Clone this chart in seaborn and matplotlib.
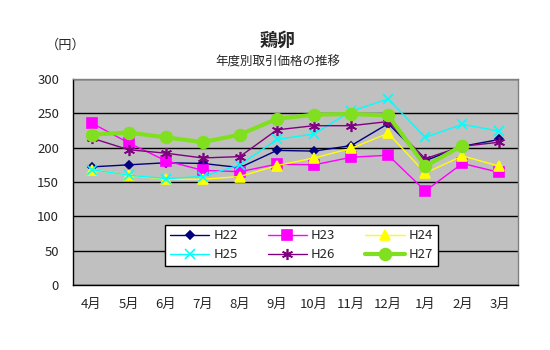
import numpy as np
import pandas as pd
import seaborn as sns
import matplotlib
matplotlib.use("Agg")
import matplotlib.pyplot as plt

months = ["4月", "5月", "6月", "7月", "8月", "9月", "10月", "11月", "12月", "1月", "2月", "3月"]
h22 = [172, 175, 178, 177, 171, 196, 195, 203, 235, 181, 202, 212]
h23 = [236, 207, 181, 167, 165, 176, 175, 186, 189, 137, 177, 164]
h24 = [168, 160, 154, 154, 158, 174, 185, 199, 221, 163, 188, 173]
h25 = [168, 160, 155, 158, 175, 212, 220, 253, 271, 215, 234, 224]
h26 = [214, 197, 192, 185, 187, 226, 232, 232, 238, 184, 202, 208]
h27 = [219, 222, 215, 208, 219, 242, 248, 249, 247, 173, 203, np.nan]
series_names = ["H22", "H23", "H24", "H25", "H26", "H27"]
yticks = [0, 50, 100, 150, 200, 250, 300]

sns.set_theme(style="white")
plt.rcParams["font.family"] = ["Noto Sans CJK JP", "DejaVu Sans"]

rows = []
for name, vals in zip(series_names, [h22, h23, h24, h25, h26, h27]):
    for i, v in enumerate(vals):
        rows.append({"series": name, "pos": i, "value": v})
df = pd.DataFrame(rows)

colors = {"H22": "#000080", "H23": "#FF00FF", "H24": "#FFFF00",
          "H25": "#00FFFF", "H26": "#800080", "H27": "#80E020"}
markers = {"H22": "D", "H23": "s", "H24": "^", "H25": "x", "H26": (6, 2, 0), "H27": "o"}
msizes = {"H22": 4.5, "H23": 6.5, "H24": 6.5, "H25": 7, "H26": 8, "H27": 8.5}
lws = {"H22": 1, "H23": 1, "H24": 1, "H25": 1, "H26": 1, "H27": 3}

fig = plt.figure(figsize=(5.5, 3.5), dpi=100)
ax = fig.add_axes([73/550, 1-285/350, 445/550, 206/350])
ax.set_facecolor("#C0C0C0")

handles = {}
for name in series_names:
    sub = df[df["series"] == name].dropna()
    sns.lineplot(data=sub, x="pos", y="value", ax=ax, color=colors[name],
                 marker=markers[name], markersize=msizes[name], linewidth=lws[name],
                 markeredgecolor=colors[name], markeredgewidth=1.2, label=name,
                 legend=False, estimator=None, sort=False)
    handles[name] = ax.lines[-1]

ax.set_xlim(-0.5, 11.5)
ax.set_ylim(0, 300)
ax.set_yticks(yticks)
ax.set_yticklabels([str(t) for t in yticks], fontsize=9.5)
ax.yaxis.grid(True, color="black", linewidth=1)
ax.set_axisbelow(True)
ax.set_xticks(range(12))
ax.set_xticklabels(months, fontsize=9.5)
ax.set_xticks(np.arange(-0.5, 12, 1), minor=True)
ax.tick_params(axis="x", which="major", length=0, pad=9)
ax.tick_params(axis="x", which="minor", length=4, direction="out", color="black", width=1)
ax.tick_params(axis="y", which="major", length=0, pad=10)
ax.set_xlabel("")
ax.set_ylabel("")
for s in ["left", "bottom"]:
    ax.spines[s].set_color("black")
    ax.spines[s].set_linewidth(1)
for s in ["top", "right"]:
    ax.spines[s].set_color("#808080")
    ax.spines[s].set_linewidth(1)

order = ["H22", "H25", "H23", "H26", "H24", "H27"]
leg = ax.legend([handles[n] for n in order], order, ncol=3, loc="lower left",
                bbox_to_anchor=(0.207, 0.092, 0.613, 0.199), mode="expand",
                borderaxespad=0,
                fancybox=False, framealpha=1, facecolor="white", edgecolor="black",
                fontsize=9.5, handlelength=3, borderpad=0.35, labelspacing=0.45,
                handletextpad=0.3)
leg.get_frame().set_linewidth(1)

fig.text(0.505, 1-40/350, "鶏卵", ha="center", va="center", fontsize=13, fontweight="bold")
fig.text(0.505, 1-62/350, "年度別取引価格の推移", ha="center", va="center", fontsize=9)
fig.text(66/550, 1-45/350, "（円）", ha="center", va="center", fontsize=9.5)

fig.savefig("out.png", dpi=100, facecolor="white")
